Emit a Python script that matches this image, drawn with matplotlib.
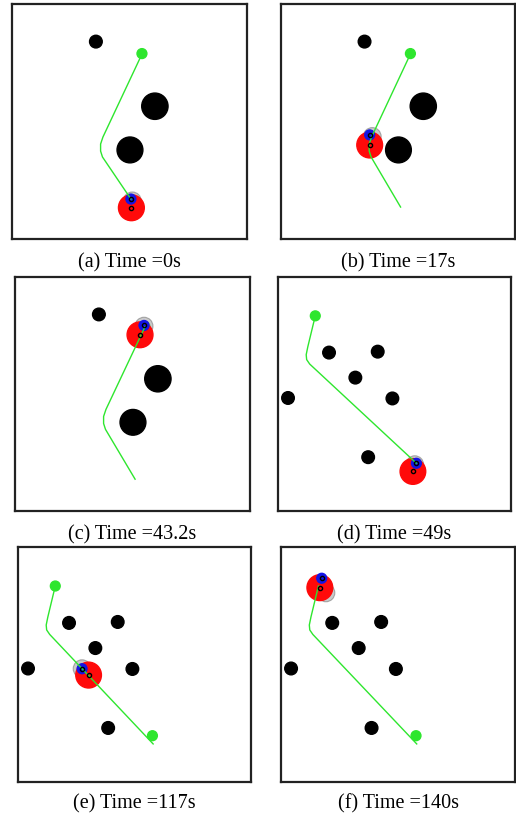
import matplotlib
matplotlib.use("Agg")
import matplotlib.pyplot as plt
from matplotlib.patches import Circle

# scene 1 (panels a-c): obstacles, goal and the robot's path
obs1_x = [3.57, 6.08, 5.02]
obs1_y = [8.40, 5.65, 3.79]
obs1_r = [0.27, 0.56, 0.55]
goal1 = (5.53, 7.89)
path1_x = [5.11, 3.85, 3.77, 3.77, 3.87, 5.53]
path1_y = [1.36, 3.49, 3.74, 4.04, 4.34, 7.87]

# scene 2 (panels d-f)
obs2_x = [2.19, 4.28, 3.32, 0.43, 4.91, 3.87]
obs2_y = [6.77, 6.81, 5.70, 4.83, 4.81, 2.30]
obs2_r = [0.27, 0.27, 0.27, 0.27, 0.27, 0.27]
goal2 = (1.60, 8.34)
start2 = (5.77, 1.97)
path2_x = [5.80, 1.36, 1.23, 1.21, 1.28, 1.60]
path2_y = [1.62, 6.28, 6.47, 6.68, 7.02, 8.34]

# robot state per panel
labels = ["(a)", "(b)", "(c)", "(d)", "(e)", "(f)"]
times = ["0s", "17s", "43.2s", "49s", "117s", "140s"]
red_x = [5.08, 3.79, 5.32, 5.79, 3.03, 1.66]
red_y = [1.33, 4.00, 7.53, 1.69, 4.55, 8.27]
blue_x = [5.06, 3.79, 5.49, 5.94, 2.75, 1.74]
blue_y = [1.70, 4.43, 7.93, 2.04, 4.82, 8.67]
gray_x = [5.12, 3.90, 5.49, 5.87, 2.75, 1.92]
gray_y = [1.62, 4.36, 7.90, 1.98, 4.82, 8.05]

W, H = 516, 817
# panel boxes in pixels: left, top, right, bottom ; caption baseline
boxes = [(12, 4, 247, 239), (281, 4, 515, 239),
         (15, 277, 250, 511), (278, 277, 511, 511),
         (18, 547, 251, 782), (281, 547, 515, 782)]
cap_y = [267, 267, 539, 539, 808, 808]

GREEN = "#2ee62e"

fig = plt.figure(figsize=(W / 100, H / 100), dpi=100)

for i in range(6):
    l, t, r, b = boxes[i]
    ax = fig.add_axes([l / W, 1 - b / H, (r - l) / W, (b - t) / H])
    ax.set_xlim(0, 10)
    ax.set_ylim(0, 10)
    ax.set_xticks([])
    ax.set_yticks([])
    for s in ax.spines.values():
        s.set_linewidth(1.6)
        s.set_color("#222222")

    if i < 3:
        ox, oy, orad = obs1_x, obs1_y, obs1_r
        px, py = list(path1_x), list(path1_y)
        greens = [goal1]
    else:
        ox, oy, orad = obs2_x, obs2_y, obs2_r
        px, py = list(path2_x), list(path2_y)
        greens = [goal2, start2]
    # at the start the drawn path begins at the robot's front marker
    if i in (0, 3):
        px[0], py[0] = blue_x[i], blue_y[i]

    for x, y, rr in zip(ox, oy, orad):
        ax.add_patch(Circle((x, y), rr, color="black", zorder=2))
    for g in greens:
        ax.add_patch(Circle(g, 0.21, color=GREEN, zorder=3))

    ax.add_patch(Circle((gray_x[i], gray_y[i]), 0.38, facecolor="#a8a8a8",
                        edgecolor="#7a7a7a", lw=0.8, alpha=0.6, zorder=4))
    ax.add_patch(Circle((red_x[i], red_y[i]), 0.55, color="#ff0a0a", zorder=5))
    ax.add_patch(Circle((blue_x[i], blue_y[i]), 0.21, color="#1414e6", zorder=6))

    ax.plot(px, py, color=GREEN, lw=1.0, zorder=7)
    ax.plot([red_x[i], blue_x[i]], [red_y[i], blue_y[i]], ls="none",
            marker="o", ms=3.0, mfc="none", mec="black", mew=1.0, zorder=8)

    fig.text((l + r) / 2 / W, 1 - cap_y[i] / H, f"{labels[i]} Time ={times[i]}",
             ha="center", va="baseline", fontsize=14.5,
             family=["Liberation Serif", "DejaVu Serif"])

fig.savefig("out.png", dpi=100)
